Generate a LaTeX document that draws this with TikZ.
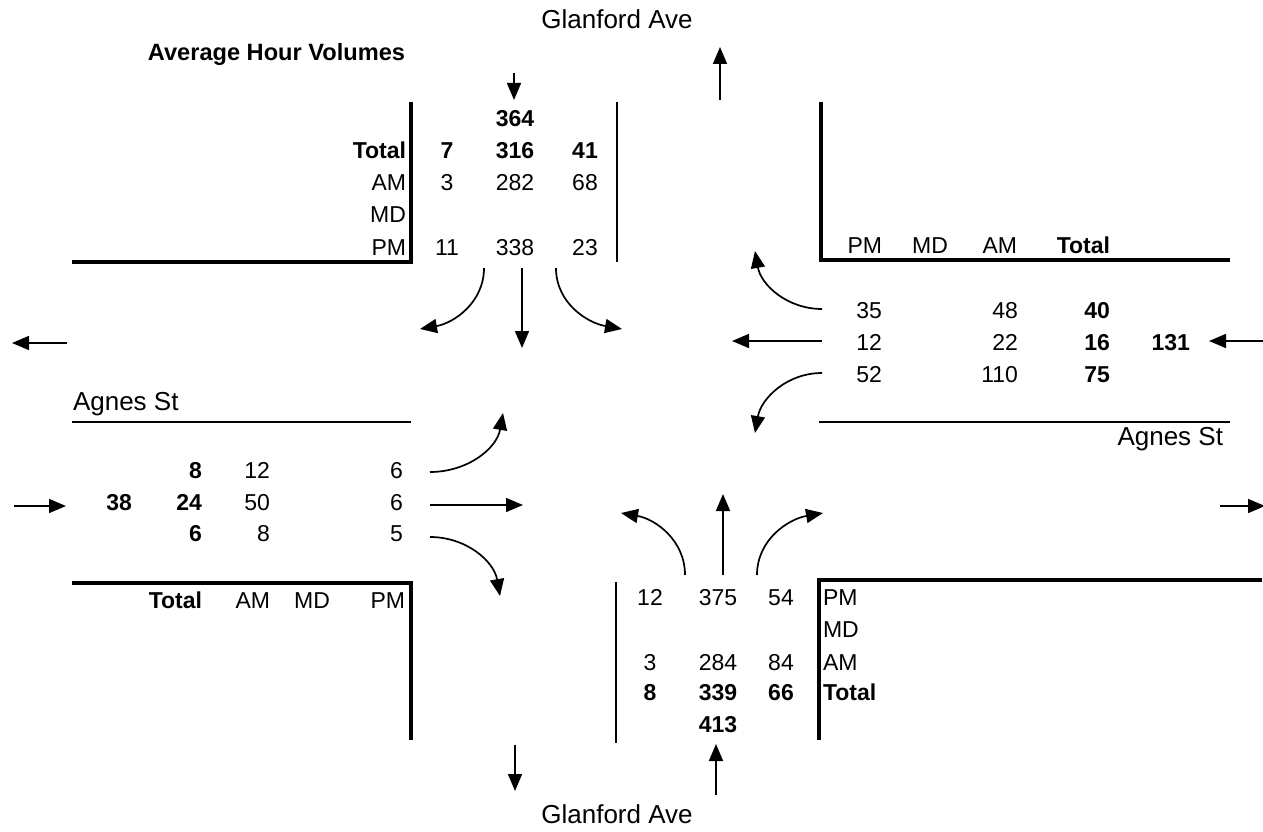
\documentclass[tikz,border=0pt]{standalone}
\usepackage{fontspec}
\setmainfont{Liberation Sans}
\usetikzlibrary{arrows.meta}
\begin{document}
\begin{tikzpicture}[x=1pt,y=-1pt,
  every node/.style={inner sep=0pt,outer sep=0pt},
  dat/.style={font=\fontsize{23}{27}\selectfont},
  bdat/.style={font=\fontsize{23}{27}\selectfont\bfseries},
  street/.style={font=\fontsize{26}{31}\selectfont},
  titl/.style={font=\fontsize{23.6}{28}\selectfont\bfseries},
  R/.style={anchor=base east}, C/.style={anchor=base}, L/.style={anchor=base west},
  thickline/.style={line width=3.5pt},
  thinline/.style={line width=1.3pt},
  flow/.style={line width=1.7pt,-{Triangle[length=17pt,width=14pt]}}
]
\useasboundingbox (0,0) rectangle (1263,832);

% titles and street names
\node[titl,R] (title) at (405,61) {Average Hour Volumes};
\node[street,C] (gtop) at (617,29) {Glanford Ave};
\node[street,C] (gbot) at (617,823) {Glanford Ave};
\node[street,L] (aleft) at (73,410) {Agnes St};
\node[street,R] (aright) at (1223,445) {Agnes St};

% road edges
\draw[thickline] (411,102) -- (411,262) -- (72,262);
\draw[thinline] (617,102) -- (617,262);
\draw[thickline] (821,102) -- (821,260) -- (1230,260);
\draw[thinline] (72,422) -- (411,422);
\draw[thinline] (819,422) -- (1230,422);
\draw[thickline] (72,583) -- (411,583) -- (411,740);
\draw[thinline] (616,582) -- (616,743);
\draw[thickline] (819,740) -- (819,580) -- (1262,580);

% north approach table
\node[bdat,C] (n364) at (515,127) {364};
\node[bdat,R] (nTot) at (406,158) {Total};
\node[bdat,C] (nT1) at (447,158) {7};
\node[bdat,C] (nT2) at (515,158) {316};
\node[bdat,C] (nT3) at (585,158) {41};
\node[dat,R] (nAM) at (406,190) {AM};
\node[dat,C] (nA1) at (447,190) {3};
\node[dat,C] (nA2) at (515,190) {282};
\node[dat,C] (nA3) at (585,190) {68};
\node[dat,R] (nMD) at (406,222) {MD};
\node[dat,R] (nPM) at (406,255) {PM};
\node[dat,C] (nP1) at (447,255) {11};
\node[dat,C] (nP2) at (515,255) {338};
\node[dat,C] (nP3) at (585,255) {23};

% east approach table
\node[dat,R] (ePM) at (882,253) {PM};
\node[dat,R] (eMD) at (948,253) {MD};
\node[dat,R] (eAM) at (1017,253) {AM};
\node[bdat,R] (eTot) at (1110,253) {Total};
\node[dat,R] (eP1) at (882,318) {35};
\node[dat,R] (eP2) at (882,350) {12};
\node[dat,R] (eP3) at (882,382) {52};
\node[dat,R] (eA1) at (1018,318) {48};
\node[dat,R] (eA2) at (1018,350) {22};
\node[dat,R] (eA3) at (1018,382) {110};
\node[bdat,R] (eT1) at (1110,318) {40};
\node[bdat,R] (eT2) at (1110,350) {16};
\node[bdat,R] (eT3) at (1110,382) {75};
\node[bdat,R] (e131) at (1190,350) {131};

% west approach table
\node[bdat,R] (wT1) at (202,478) {8};
\node[bdat,R] (wT2) at (202,510) {24};
\node[bdat,R] (wT3) at (202,541) {6};
\node[bdat,R] (w38) at (132,510) {38};
\node[dat,R] (wA1) at (270,478) {12};
\node[dat,R] (wA2) at (270,510) {50};
\node[dat,R] (wA3) at (270,541) {8};
\node[dat,R] (wP1) at (403,478) {6};
\node[dat,R] (wP2) at (403,510) {6};
\node[dat,R] (wP3) at (403,541) {5};
\node[bdat,R] (wTot) at (202,608) {Total};
\node[dat,R] (wAM) at (270,608) {AM};
\node[dat,R] (wMD) at (330,608) {MD};
\node[dat,R] (wPM) at (405,608) {PM};

% south approach table
\node[dat,C] (sP1) at (650,605) {12};
\node[dat,C] (sP2) at (718,605) {375};
\node[dat,C] (sP3) at (781,605) {54};
\node[dat,L] (sPM) at (823,605) {PM};
\node[dat,L] (sMD) at (823,637) {MD};
\node[dat,C] (sA1) at (650,670) {3};
\node[dat,C] (sA2) at (718,670) {284};
\node[dat,C] (sA3) at (781,670) {84};
\node[dat,L] (sAM) at (823,670) {AM};
\node[bdat,C] (sT1) at (650,700) {8};
\node[bdat,C] (sT2) at (718,700) {339};
\node[bdat,C] (sT3) at (781,700) {66};
\node[bdat,L] (sTot) at (823,700) {Total};
\node[bdat,C] (s413) at (718,732) {413};

% arrow end points
\coordinate (nIn1) at (514,73);   \coordinate (nIn2) at (514,100);
\coordinate (nOut1) at (720,100); \coordinate (nOut2) at (720,47);
\coordinate (wOut1) at (67,343);  \coordinate (wOut2) at (12,343);
\coordinate (wIn1) at (14,506);   \coordinate (wIn2) at (66,506);
\coordinate (eIn1) at (1263,341); \coordinate (eIn2) at (1209,341);
\coordinate (eOut1) at (1220,506);\coordinate (eOut2) at (1265,506);
\coordinate (sOut1) at (515,745); \coordinate (sOut2) at (515,791);
\coordinate (sIn1) at (716,795);  \coordinate (sIn2) at (716,744);

\coordinate (nL1) at (484,268); \coordinate (nL2) at (420,329);
\coordinate (nS1) at (522,268); \coordinate (nS2) at (522,348);
\coordinate (nR1) at (556,268); \coordinate (nR2) at (622,329);

\coordinate (wL1) at (430,472); \coordinate (wL2) at (503,413);
\coordinate (wS1) at (430,505); \coordinate (wS2) at (523,505);
\coordinate (wR1) at (430,537); \coordinate (wR2) at (500,596);

\coordinate (eR1) at (822,309); \coordinate (eR2) at (755,251);
\coordinate (eS1) at (822,341); \coordinate (eS2) at (732,341);
\coordinate (eL1) at (822,373); \coordinate (eL2) at (755,433);

\coordinate (sL1) at (685,575); \coordinate (sL2) at (621,513);
\coordinate (sS1) at (723,575); \coordinate (sS2) at (723,494);
\coordinate (sR1) at (757,575); \coordinate (sR2) at (823,513);

% approach / departure arrows
\draw[flow] (nIn1) -- (nIn2);
\draw[flow] (nOut1) -- (nOut2);
\draw[flow] (wOut1) -- (wOut2);
\draw[flow] (wIn1) -- (wIn2);
\draw[flow] (eIn1) -- (eIn2);
\draw[flow] (eOut1) -- (eOut2);
\draw[flow] (sOut1) -- (sOut2);
\draw[flow] (sIn1) -- (sIn2);

% turning movements
\draw[flow] (nL1) to[out=-90,in=10] (nL2);
\draw[flow] (nS1) -- (nS2);
\draw[flow] (nR1) to[out=-90,in=170] (nR2);

\draw[flow] (wL1) to[out=0,in=-100] (wL2);
\draw[flow] (wS1) -- (wS2);
\draw[flow] (wR1) to[out=0,in=100] (wR2);

\draw[flow] (eR1) to[out=180,in=-80] (eR2);
\draw[flow] (eS1) -- (eS2);
\draw[flow] (eL1) to[out=180,in=80] (eL2);

\draw[flow] (sL1) to[out=90,in=-10] (sL2);
\draw[flow] (sS1) -- (sS2);
\draw[flow] (sR1) to[out=90,in=190] (sR2);
\end{tikzpicture}
\end{document}
